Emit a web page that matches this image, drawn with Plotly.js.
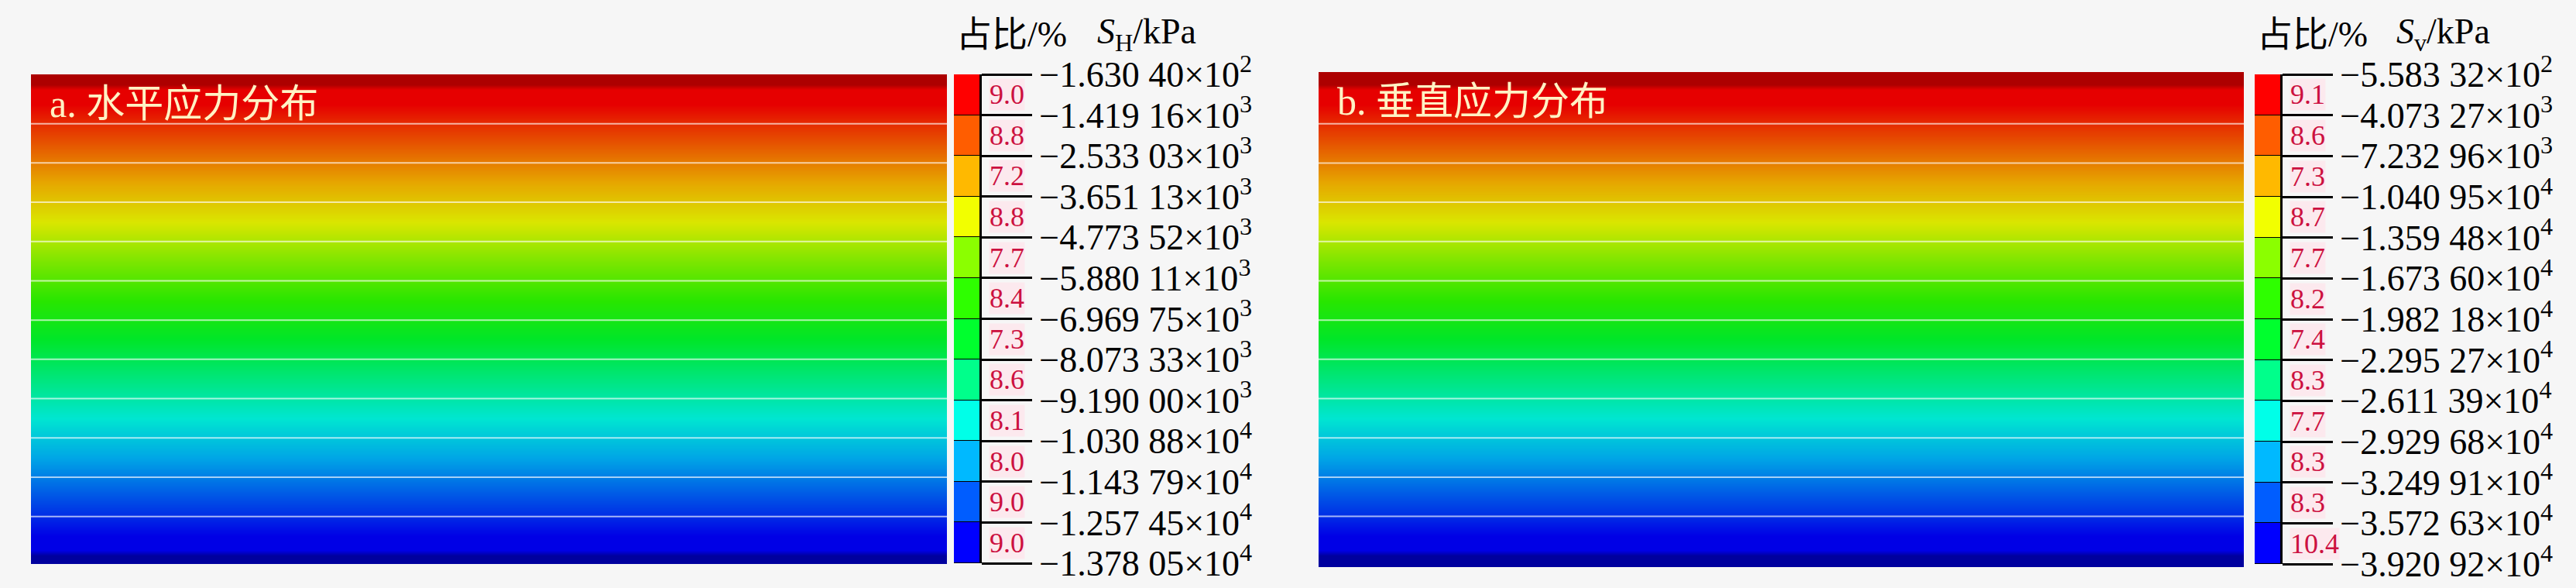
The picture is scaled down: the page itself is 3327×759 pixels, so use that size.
<!DOCTYPE html>
<html>
<head>
<meta charset="utf-8">
<script src="https://cdn.plot.ly/plotly-3.0.1.min.js"></script>
<style>
html,body{margin:0;padding:0;background:#f6f6f6;}
#chart{width:3327px;height:759px;}
</style>
</head>
<body>
<div id="chart"></div>
<script>
// ---------------- data ----------------
// Panel a: horizontal stress S_H (kPa), contour level boundaries, top to bottom
const levelsA = [-163.040, -1419.16, -2533.03, -3651.13, -4773.52, -5880.11, -6969.75,
                 -8073.33, -9190.00, -10308.8, -11437.9, -12574.5, -13780.5];
const labelsA = ["−1.630 40×10<sup>2</sup>", "−1.419 16×10<sup>3</sup>", "−2.533 03×10<sup>3</sup>",
                 "−3.651 13×10<sup>3</sup>", "−4.773 52×10<sup>3</sup>", "−5.880 11×10<sup>3</sup>",
                 "−6.969 75×10<sup>3</sup>", "−8.073 33×10<sup>3</sup>", "−9.190 00×10<sup>3</sup>",
                 "−1.030 88×10<sup>4</sup>", "−1.143 79×10<sup>4</sup>", "−1.257 45×10<sup>4</sup>",
                 "−1.378 05×10<sup>4</sup>"];
const pctA = [9.0, 8.8, 7.2, 8.8, 7.7, 8.4, 7.3, 8.6, 8.1, 8.0, 9.0, 9.0];

// Panel b: vertical stress S_v (kPa)
const levelsB = [-558.332, -4073.27, -7232.96, -10409.5, -13594.8, -16736.0, -19821.8,
                 -22952.7, -26113.9, -29296.8, -32499.1, -35726.3, -39209.2];
const labelsB = ["−5.583 32×10<sup>2</sup>", "−4.073 27×10<sup>3</sup>", "−7.232 96×10<sup>3</sup>",
                 "−1.040 95×10<sup>4</sup>", "−1.359 48×10<sup>4</sup>", "−1.673 60×10<sup>4</sup>",
                 "−1.982 18×10<sup>4</sup>", "−2.295 27×10<sup>4</sup>", "−2.611 39×10<sup>4</sup>",
                 "−2.929 68×10<sup>4</sup>", "−3.249 91×10<sup>4</sup>", "−3.572 63×10<sup>4</sup>",
                 "−3.920 92×10<sup>4</sup>"];
const pctB = [9.1, 8.6, 7.3, 8.7, 7.7, 8.2, 7.4, 8.3, 7.7, 8.3, 8.3, 10.4];

// band colours, top (least compressive) to bottom
const bandColors = ['#ff0000', '#ff5d00', '#ffb900', '#f2ff00', '#8bff00', '#2eff00',
                    '#00ff2e', '#00ff8b', '#00ffe8', '#00b9ff', '#005dff', '#0000ff'];
const topDark = '#c00000';
const bottomDark = '#0000b0';

const titleA = 'a. 水平应力分布';
const titleB = 'b. 垂直应力分布';
const unitA = '<i>S</i><sub>H</sub>/kPa';
const unitB = '<i>S</i><sub>v</sub>/kPa';
const pctTitle = '占比/%';

// ---------------- helpers ----------------
const W = 3327, H = 759;
const dx = (l, r) => [l / W, r / W];
const dy = (t, b) => [1 - b / H, 1 - t / H];
const SERIF = 'Liberation Serif, Noto Sans CJK SC, serif';

function buildScale(levels) {
  const zmax = levels[0], zmin = levels[levels.length - 1];
  const pts = [[0, bottomDark], [0.012, bandColors[bandColors.length - 1]]];
  for (let i = bandColors.length - 1; i >= 0; i--) {
    const mid = (levels[i] + levels[i + 1]) / 2;
    pts.push([(mid - zmin) / (zmax - zmin), bandColors[i]]);
  }
  pts.push([0.988, bandColors[0]]);
  pts.push([1, topDark]);
  return pts;
}

function panelTraces(levels, xa, ya, xc, yc) {
  const scale = buildScale(levels);
  const zmax = levels[0], zmin = levels[levels.length - 1];
  const idx = levels.map((v, i) => i);
  const mids = levels.slice(0, -1).map((v, i) => (v + levels[i + 1]) / 2);
  const field = {
    type: 'heatmap', x: [0, 1], y: idx, z: levels.map(v => [v, v]),
    xaxis: xa, yaxis: ya, colorscale: scale, zmin: zmin, zmax: zmax,
    zsmooth: 'best', showscale: false, opacity: 0.9, hoverinfo: 'skip'
  };
  const bar = {
    type: 'heatmap', x: [0], y: mids.map((v, i) => i + 0.5), z: mids.map(v => [v]),
    xaxis: xc, yaxis: yc, colorscale: scale, zmin: zmin, zmax: zmax,
    zsmooth: false, showscale: false, ygap: 1, hoverinfo: 'skip'
  };
  return [field, bar];
}

const data = [
  ...panelTraces(levelsA, 'x', 'y', 'x2', 'y2'),
  ...panelTraces(levelsB, 'x3', 'y3', 'x4', 'y4')
];

const hidden = {visible: false, fixedrange: true};

function cbAxis(domain, anchor, labels) {
  return {
    domain: domain, anchor: anchor, range: [12, 0], side: 'right',
    tickvals: labels.map((t, i) => i), ticktext: labels,
    ticks: 'outside', ticklen: 65, tickwidth: 3, tickcolor: '#000',
    showline: true, linecolor: '#000', linewidth: 3,
    showgrid: false, zeroline: false, fixedrange: true,
    tickfont: {family: SERIF, size: 46, color: '#000'}
  };
}

function lineShapes(levels, xref, yref) {
  return levels.slice(1, -1).map((v, j) => ({
    type: 'line', xref: xref + ' domain', yref: yref, x0: 0, x1: 1, y0: j + 1, y1: j + 1,
    line: {color: 'rgba(255,255,255,0.65)', width: 2}
  }));
}

function pctNotes(pcts, xc, yc) {
  return pcts.map((p, i) => ({
    xref: xc + ' domain', x: 1, xanchor: 'left', xshift: 12,
    yref: yc, y: i + 0.5, yanchor: 'middle',
    text: p.toFixed(1), showarrow: false, bgcolor: '#fce9ee', borderpad: 0,
    font: {family: SERIF, size: 36, color: '#cc1040'}
  }));
}

function titleNote(text, xa, ya) {
  return {
    xref: xa + ' domain', x: 0, xanchor: 'left', xshift: 22,
    yref: ya + ' domain', y: 1, yanchor: 'top', yshift: -8,
    text: text, showarrow: false,
    font: {family: SERIF, size: 50, color: '#fff2c4'}
  };
}

function header(text, xpx) {
  return {
    xref: 'paper', x: xpx / W, xanchor: 'left',
    yref: 'paper', y: 1 - 44 / H, yanchor: 'middle',
    text: text, showarrow: false,
    font: {family: SERIF, size: 46, color: '#000'}
  };
}

const layout = {
  width: W, height: H,
  margin: {l: 0, r: 0, t: 0, b: 0},
  paper_bgcolor: '#f6f6f6', plot_bgcolor: '#000',
  showlegend: false,
  xaxis:  Object.assign({domain: dx(40, 1223), anchor: 'y', range: [0, 1]}, hidden),
  yaxis:  Object.assign({domain: dy(96, 728), anchor: 'x', range: [12.21, -0.256]}, hidden),
  xaxis2: Object.assign({domain: dx(1232, 1265), anchor: 'y2', range: [-0.5, 0.5]}, hidden),
  yaxis2: cbAxis(dy(96, 727), 'x2', labelsA),
  xaxis3: Object.assign({domain: dx(1703, 2898), anchor: 'y3', range: [0, 1]}, hidden),
  yaxis3: Object.assign({domain: dy(93, 732), anchor: 'x3', range: [12.29, -0.316]}, hidden),
  xaxis4: Object.assign({domain: dx(2912, 2945), anchor: 'y4', range: [-0.5, 0.5]}, hidden),
  yaxis4: cbAxis(dy(96, 728), 'x4', labelsB),
  shapes: [...lineShapes(levelsA, 'x', 'y'), ...lineShapes(levelsB, 'x3', 'y3')],
  annotations: [
    ...pctNotes(pctA, 'x2', 'y2'),
    ...pctNotes(pctB, 'x4', 'y4'),
    titleNote(titleA, 'x', 'y'),
    titleNote(titleB, 'x3', 'y3'),
    header(pctTitle, 1233), header(unitA, 1415),
    header(pctTitle, 2913), header(unitB, 3093)
  ]
};

Plotly.newPlot('chart', data, layout, {staticPlot: true, displayModeBar: false});
</script>
</body>
</html>
